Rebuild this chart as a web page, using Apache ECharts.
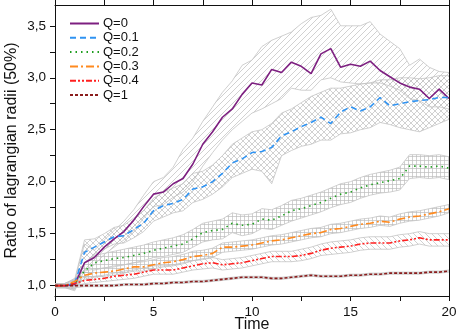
<!DOCTYPE html>
<html style="height: 100%">
	<head>
		<meta charset="utf-8"/>
		<script type="text/javascript" src="https://cdn.jsdelivr.net/npm/echarts@6/dist/echarts.min.js"></script>
	</head>
	<body style="height: 100%;margin: 0">
		<div id="container" style="width: 458px;height: 333px"></div>
		<script type="text/javascript">
			var times = [0,0.5,1,1.5,2,2.5,3,3.5,4,4.5,5,5.5,6,6.5,7,7.5,8,8.5,9,9.5,10,10.5,11,11.5,12,12.5,13,13.5,14,14.5,15,15.5,16,16.5,17,17.5,18,18.5,19,19.5,20];
			var names = ['Q=0','Q=0.1','Q=0.2','Q=0.3','Q=0.4','Q=1'];
			var yTicks = [1.0,1.5,2.0,2.5,3.0,3.5];
			var yMinorTicks = [1.0,1.25,1.5,1.75,2.0,2.25,2.5,2.75,3.0,3.25,3.5];

			// mean curves
			var q0 = [1.00,1.00,1.01,1.22,1.27,1.37,1.45,1.52,1.63,1.76,1.88,1.90,1.98,2.03,2.17,2.36,2.48,2.62,2.70,2.84,2.95,2.93,3.08,3.05,3.15,3.11,3.04,3.23,3.28,3.10,3.13,3.11,3.16,3.07,3.01,2.95,2.91,2.89,2.80,2.89,2.80];
			var q01 = [1.00,1.00,1.02,1.32,1.37,1.42,1.47,1.48,1.54,1.60,1.72,1.77,1.79,1.83,1.93,1.95,2.00,2.08,2.18,2.22,2.28,2.29,2.33,2.44,2.48,2.53,2.57,2.62,2.56,2.67,2.72,2.68,2.72,2.81,2.73,2.75,2.77,2.78,2.79,2.81,2.81];
			var q02 = [1.00,1.00,1.02,1.14,1.22,1.24,1.26,1.27,1.29,1.31,1.34,1.36,1.38,1.40,1.45,1.51,1.53,1.54,1.60,1.58,1.59,1.64,1.63,1.67,1.72,1.74,1.77,1.80,1.84,1.88,1.90,1.94,1.97,1.99,2.01,2.03,2.15,2.15,2.14,2.15,2.13];
			var q03 = [1.00,1.00,1.04,1.10,1.12,1.13,1.14,1.16,1.18,1.18,1.20,1.22,1.23,1.25,1.28,1.29,1.31,1.37,1.37,1.38,1.39,1.41,1.43,1.44,1.46,1.48,1.50,1.51,1.54,1.55,1.57,1.59,1.60,1.62,1.61,1.64,1.66,1.67,1.69,1.71,1.74];
			var q04 = [1.00,1.00,1.02,1.05,1.06,1.07,1.09,1.10,1.11,1.13,1.15,1.15,1.15,1.17,1.19,1.21,1.22,1.20,1.21,1.22,1.24,1.26,1.28,1.28,1.28,1.29,1.31,1.34,1.36,1.37,1.38,1.40,1.41,1.41,1.41,1.43,1.44,1.46,1.44,1.44,1.44];
			var q1 = [1.00,1.00,1.00,1.00,1.00,1.00,1.00,1.01,1.01,1.01,1.02,1.02,1.03,1.03,1.04,1.04,1.05,1.06,1.07,1.08,1.08,1.08,1.07,1.07,1.08,1.09,1.10,1.09,1.09,1.09,1.10,1.10,1.11,1.11,1.12,1.12,1.12,1.12,1.13,1.13,1.14];

			// spread bands (lower / upper edge)
			var q0lo = [0.98,0.98,0.95,1.15,1.20,1.30,1.37,1.44,1.53,1.65,1.76,1.78,1.85,1.90,2.00,2.15,2.28,2.40,2.50,2.58,2.66,2.70,2.75,2.80,2.90,2.88,2.88,2.98,3.00,2.96,2.95,2.94,2.95,2.95,2.92,2.88,2.80,2.78,2.72,2.72,2.70];
			var q0hi = [1.02,1.02,1.05,1.40,1.34,1.44,1.53,1.62,1.73,1.87,2.00,2.04,2.14,2.31,2.42,2.58,2.72,2.86,2.97,3.12,3.17,3.30,3.36,3.40,3.44,3.52,3.58,3.60,3.66,3.50,3.50,3.50,3.54,3.42,3.35,3.28,3.12,3.18,3.10,3.06,3.05];
			var q01lo = [0.98,0.98,0.96,1.22,1.30,1.35,1.40,1.41,1.46,1.52,1.62,1.66,1.70,1.72,1.80,1.83,1.88,1.95,2.04,2.08,2.12,2.10,1.98,2.25,2.30,2.34,2.36,2.40,2.40,2.46,2.47,2.50,2.52,2.57,2.55,2.52,2.50,2.48,2.52,2.56,2.60];
			var q01hi = [1.02,1.02,1.06,1.44,1.45,1.50,1.56,1.58,1.65,1.72,1.84,1.90,1.94,1.98,2.08,2.10,2.16,2.25,2.36,2.42,2.48,2.50,2.56,2.66,2.70,2.76,2.82,2.86,2.90,2.90,2.92,2.94,2.95,2.98,2.98,3.00,3.00,2.99,3.00,3.02,3.02];
			var q02lo = [0.98,0.98,0.97,1.07,1.15,1.17,1.19,1.20,1.22,1.24,1.27,1.28,1.30,1.32,1.37,1.42,1.44,1.45,1.51,1.48,1.50,1.55,1.54,1.58,1.62,1.65,1.68,1.71,1.75,1.78,1.80,1.84,1.87,1.89,1.90,1.92,2.03,2.04,2.03,2.04,2.02];
			var q02hi = [1.02,1.02,1.06,1.22,1.29,1.31,1.33,1.35,1.37,1.39,1.42,1.44,1.46,1.49,1.54,1.60,1.62,1.64,1.70,1.68,1.69,1.74,1.73,1.77,1.82,1.84,1.87,1.90,1.94,1.98,2.00,2.04,2.07,2.09,2.11,2.14,2.26,2.26,2.25,2.26,2.24];
			var q03lo = [0.98,0.98,1.00,1.06,1.08,1.09,1.10,1.12,1.14,1.14,1.16,1.18,1.19,1.21,1.24,1.25,1.27,1.32,1.33,1.34,1.35,1.37,1.39,1.40,1.42,1.44,1.46,1.47,1.50,1.51,1.53,1.55,1.56,1.58,1.57,1.60,1.62,1.63,1.65,1.67,1.70];
			var q03hi = [1.02,1.02,1.07,1.14,1.16,1.17,1.18,1.20,1.22,1.23,1.25,1.27,1.28,1.30,1.33,1.34,1.36,1.41,1.42,1.43,1.44,1.46,1.48,1.49,1.51,1.53,1.55,1.56,1.59,1.60,1.62,1.64,1.65,1.67,1.66,1.69,1.71,1.72,1.74,1.76,1.78];
			var q04lo = [0.98,0.98,0.99,1.02,1.03,1.04,1.05,1.06,1.07,1.09,1.11,1.11,1.11,1.13,1.15,1.16,1.17,1.15,1.16,1.17,1.19,1.21,1.23,1.23,1.23,1.24,1.26,1.29,1.30,1.31,1.32,1.34,1.35,1.35,1.35,1.37,1.38,1.40,1.38,1.38,1.38];
			var q04hi = [1.02,1.02,1.05,1.08,1.09,1.10,1.12,1.14,1.15,1.17,1.19,1.19,1.20,1.22,1.24,1.26,1.27,1.25,1.26,1.27,1.29,1.31,1.33,1.33,1.33,1.35,1.37,1.40,1.42,1.43,1.44,1.46,1.47,1.47,1.47,1.49,1.50,1.52,1.50,1.50,1.50];
			var q1lo = [0.99,0.99,0.98,0.99,0.99,0.99,0.99,1.00,1.00,1.00,1.01,1.01,1.02,1.02,1.03,1.03,1.04,1.05,1.06,1.07,1.07,1.07,1.06,1.06,1.07,1.08,1.09,1.08,1.08,1.08,1.09,1.09,1.10,1.10,1.11,1.11,1.11,1.11,1.12,1.12,1.13];
			var q1hi = [1.01,1.01,1.02,1.01,1.01,1.01,1.01,1.02,1.02,1.02,1.03,1.03,1.04,1.04,1.05,1.05,1.06,1.07,1.08,1.09,1.09,1.09,1.08,1.08,1.09,1.10,1.11,1.10,1.10,1.10,1.11,1.11,1.12,1.12,1.13,1.13,1.13,1.13,1.14,1.14,1.15];

			var means = [q0,q01,q02,q03,q04,q1];
			var lows = [q0lo,q01lo,q02lo,q03lo,q04lo,q1lo];
			var highs = [q0hi,q01hi,q02hi,q03hi,q04hi,q1hi];
			var colors = ['#7d1f80','#2f93f2','#1f9e1f','#ff8a1f','#ff1f1f','#8b1c1c'];
			var dashes = ['solid',[6,4],[1.5,4],[8,3,2,3],[6,2,2,2,2,2],[3,2]];
			var hatchKinds = ['slash','cross','grid','grid','back','none'];

			function makeHatch(kind){
				var s = kind == 'grid' ? 4 : 6;
				var c = document.createElement('canvas');
				c.width = s; c.height = s;
				var g = c.getContext('2d');
				g.strokeStyle = '#bdbdbd';
				g.lineWidth = 0.7;
				g.beginPath();
				if(kind == 'slash' || kind == 'cross') {
					g.moveTo(0,s); g.lineTo(s,0);
					g.moveTo(-1,1); g.lineTo(1,-1);
					g.moveTo(s-1,s+1); g.lineTo(s+1,s-1);
				}
				if(kind == 'back' || kind == 'cross') {
					g.moveTo(0,0); g.lineTo(s,s);
					g.moveTo(-1,s-1); g.lineTo(1,s+1);
					g.moveTo(s-1,-1); g.lineTo(s+1,1);
				}
				if(kind == 'grid') {
					g.moveTo(0,0.5); g.lineTo(s,0.5);
					g.moveTo(0.5,0); g.lineTo(0.5,s);
				}
				g.stroke();
				if(kind == 'none') {
					g.fillStyle = 'rgba(200,200,200,0.6)';
					g.fillRect(0,0,s,s);
				}
				return {image: c, repeat: 'repeat'};
			}

			function diff(lo, hi){
				var out = [];
				for(var i=0;i<lo.length;i++) {
					out.push(+(hi[i]-lo[i]).toFixed(3));
				}
				return out;
			}

			var series = [];
			for(var i=0;i<means.length;i++) {
				series.push({
					type:'line', stack:'band'+i, data:lows[i],
					symbol:'none', silent:true, z:1,
					lineStyle:{color:'#c4c4c4', width:0.8}
				});
				series.push({
					type:'line', stack:'band'+i, data:diff(lows[i],highs[i]),
					symbol:'none', silent:true, z:1,
					lineStyle:{color:'#c4c4c4', width:0.8},
					areaStyle:{color:makeHatch(hatchKinds[i]), opacity:1}
				});
			}
			for(var i=0;i<means.length;i++) {
				series.push({
					name:names[i], type:'line', data:means[i],
					symbol:'none', z:5,
					itemStyle:{color:colors[i]},
					lineStyle:{color:colors[i], width:1.6, type:dashes[i]}
				});
			}

			var container = document.getElementById("container");
			var myChart = echarts.init(container);
			var option = {
				animation:false,
				backgroundColor:'#ffffff',
				textStyle:{fontFamily:'Liberation Sans, Arial, sans-serif'},
				grid:{left:55, right:9, top:5, bottom:37, outerBoundsMode:'none', containLabel:false},
				legend:{
					data:names,
					orient:'vertical',
					left:69, top:17,
					padding:0,
					itemWidth:29, itemHeight:14, itemGap:1.3,
					itemStyle:{opacity:0},
					textStyle:{fontSize:13, color:'#111', padding:[0,0,0,-1]}
				},
				xAxis:[{
					type:'category', data:times, boundaryGap:false,
					name:'Time', nameLocation:'middle', nameGap:21, nameMoveOverlap:false,
					nameTextStyle:{fontSize:16, color:'#111'},
					axisLine:{lineStyle:{color:'#111', width:1}},
					axisTick:{inside:false, length:5, interval:4, lineStyle:{color:'#111'}},
					axisLabel:{fontSize:13.5, color:'#111', margin:9, interval:9},
					splitLine:{show:false}
				},{
					type:'category', data:times, boundaryGap:false, position:'top',
					axisLine:{lineStyle:{color:'#111', width:1}},
					axisTick:{inside:false, length:5, interval:4, lineStyle:{color:'#111'}},
					axisLabel:{show:false},
					splitLine:{show:false}
				}],
				yAxis:[{
					type:'value', min:0.9, max:3.7,
					name:'Ratio of lagrangian radii (50%)', nameLocation:'middle', nameGap:35, nameMoveOverlap:false,
					nameTextStyle:{fontSize:16, color:'#111'},
					axisLine:{show:true, lineStyle:{color:'#111', width:1}},
					axisTick:{show:true, length:5, customValues:yMinorTicks, lineStyle:{color:'#111'}},
					axisLabel:{fontSize:13.5, color:'#111', margin:9, customValues:yTicks,
						formatter:function(v){ return v.toFixed(1).replace('.',','); }},
					splitLine:{show:false}
				},{
					type:'value', min:0.9, max:3.7, position:'right',
					axisLine:{show:true, lineStyle:{color:'#111', width:1}},
					axisTick:{show:false}, axisLabel:{show:false},
					splitLine:{show:false}
				}],
				series:series
			};
			myChart.setOption(option,true);
		</script>
	</body>
</html>
